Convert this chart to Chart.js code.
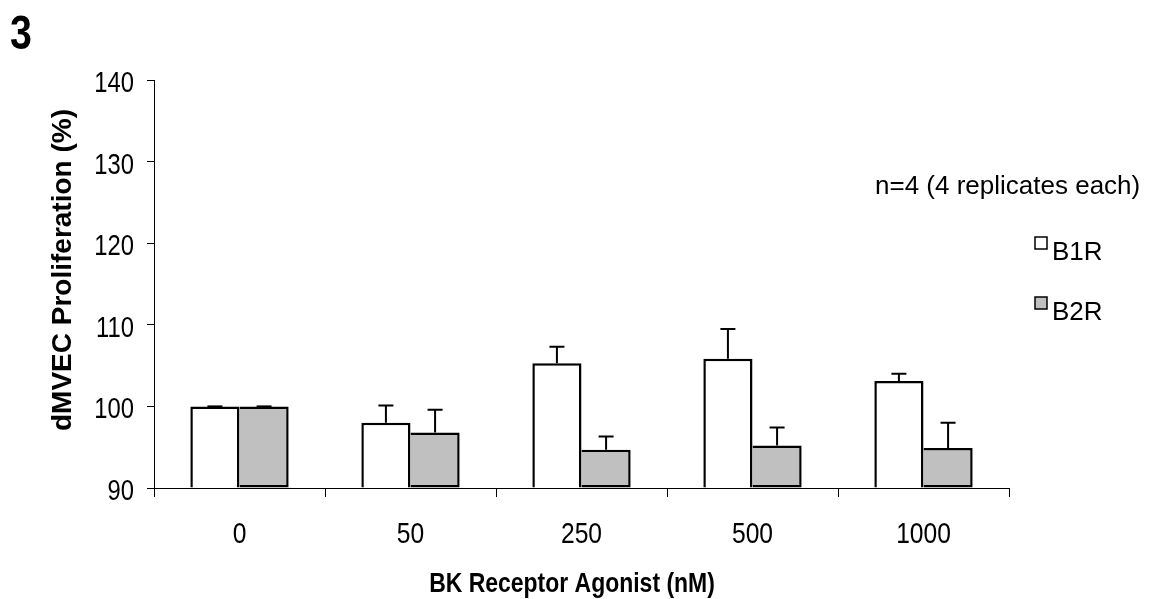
<!DOCTYPE html>
<html>
<head>
<meta charset="utf-8">
<script src="https://cdn.jsdelivr.net/npm/chart.js@4"></script>
<style>
  body { margin: 0; background: #fff; }
</style>
</head>
<body>
<canvas id="myChart" width="1155" height="599"></canvas>
<script>
// Data
const categories = ['0', '50', '250', '500', '1000'];
const b1r = [100, 98.0, 105.3, 105.85, 103.1];
const b1rErr = [0, 2.1, 2.0, 3.65, 0.9];
const b2r = [100, 96.8, 94.7, 95.2, 94.9];
const b2rErr = [0, 2.8, 1.6, 2.2, 3.1];
const yMin = 90;
const yMax = 140;
const yStep = 10;

const fam = "'Liberation Sans', Arial";
const squeeze = 0.82; // the figure's text is horizontally condensed

// Draw text squeezed horizontally
function squashText(ctx, text, x, y, font, align) {
    ctx.save();
    ctx.translate(x, y);
    ctx.scale(squeeze, 1);
    ctx.font = font;
    ctx.textAlign = align;
    ctx.fillText(text, 0, 0);
    ctx.restore();
}

// Error bars (upward only)
const errorBars = {
    id: 'errorBars',
    afterDatasetsDraw(chart) {
        const ctx = chart.ctx;
        const y = chart.scales.y;
        const errs = [b1rErr, b2rErr];
        ctx.save();
        ctx.strokeStyle = '#000';
        ctx.lineWidth = 2;
        chart.data.datasets.forEach((ds, di) => {
            chart.getDatasetMeta(di).data.forEach((bar, i) => {
                const top = y.getPixelForValue(ds.data[i] + errs[di][i]);
                ctx.beginPath();
                ctx.moveTo(bar.x, bar.y);
                ctx.lineTo(bar.x, top);
                ctx.moveTo(bar.x - 7.5, top);
                ctx.lineTo(bar.x + 7.5, top);
                ctx.stroke();
            });
        });
        ctx.restore();
    }
};

// Tick labels, panel number, axis titles, note and legend
const extras = {
    id: 'extras',
    afterDraw(chart) {
        const ctx = chart.ctx;
        const xs = chart.scales.x;
        const ys = chart.scales.y;
        ctx.save();
        ctx.fillStyle = '#000';
        ctx.textBaseline = 'alphabetic';

        ys.ticks.forEach((t, i) => {
            squashText(ctx, String(t.value), 134, ys.getPixelForTick(i) + 12, `29px ${fam}`, 'right');
        });
        xs.ticks.forEach((t, i) => {
            squashText(ctx, xs.getLabelForValue(t.value), xs.getPixelForTick(i), 543, `30px ${fam}`, 'center');
        });

        squashText(ctx, '3', 10, 49, `bold 48px ${fam}`, 'left');
        squashText(ctx, 'BK Receptor Agonist (nM)', 572, 592, `bold 28px ${fam}`, 'center');

        ctx.save();
        ctx.translate(71, 270);
        ctx.rotate(-Math.PI / 2);
        ctx.font = `bold 28px ${fam}`;
        ctx.textAlign = 'center';
        ctx.fillText('dMVEC Proliferation (%)', 0, 0);
        ctx.restore();

        ctx.textAlign = 'left';
        ctx.font = `26px ${fam}`;
        ctx.fillText('n=4 (4 replicates each)', 875, 194);

        const legend = [
            { label: 'B1R', fill: '#ffffff', y: 237 },
            { label: 'B2R', fill: '#c0c0c0', y: 297 }
        ];
        ctx.lineWidth = 1.5;
        legend.forEach(item => {
            ctx.fillStyle = item.fill;
            ctx.fillRect(1035, item.y, 12, 12);
            ctx.strokeStyle = '#000';
            ctx.strokeRect(1035, item.y, 12, 12);
            ctx.fillStyle = '#000';
            ctx.font = `26px ${fam}`;
            ctx.fillText(item.label, 1052, item.y + 23);
        });
        ctx.restore();
    }
};

const chartX = document.getElementById('myChart').getContext('2d');
const chart = new Chart(chartX, {
    type: 'bar',
    data: {
        labels: categories,
        datasets: [{
            label: 'B1R',
            data: b1r,
            base: yMin,
            backgroundColor: '#ffffff',
            borderColor: '#000',
            borderWidth: 2.5,
            borderSkipped: 'start'
        }, {
            label: 'B2R',
            data: b2r,
            base: yMin,
            backgroundColor: '#c0c0c0',
            borderColor: '#000',
            borderWidth: 2.5,
            borderSkipped: 'left'
        }]
    },
    options: {
        responsive: false,
        animation: false,
        devicePixelRatio: 1,
        layout: { padding: { left: 0, right: 146, top: 80, bottom: 0 } },
        datasets: { bar: { categoryPercentage: 0.575, barPercentage: 1 } },
        plugins: {
            legend: { display: false },
            tooltip: { enabled: false }
        },
        scales: {
            x: {
                afterFit(s) { s.height = 111; },
                grid: { offset: true, drawOnChartArea: false, tickLength: 9, color: '#000' },
                border: { color: '#000', width: 1 },
                ticks: { color: 'rgba(0,0,0,0)', padding: 18, font: { family: fam, size: 24 } }
            },
            y: {
                min: yMin,
                max: yMax,
                afterFit(s) { s.width = 154; },
                grid: { drawOnChartArea: false, tickLength: 7, color: '#000' },
                border: { color: '#000', width: 1 },
                ticks: { stepSize: yStep, color: 'rgba(0,0,0,0)', padding: 13, font: { family: fam, size: 24 } }
            }
        }
    },
    plugins: [errorBars, extras]
});
</script>
</body>
</html>
